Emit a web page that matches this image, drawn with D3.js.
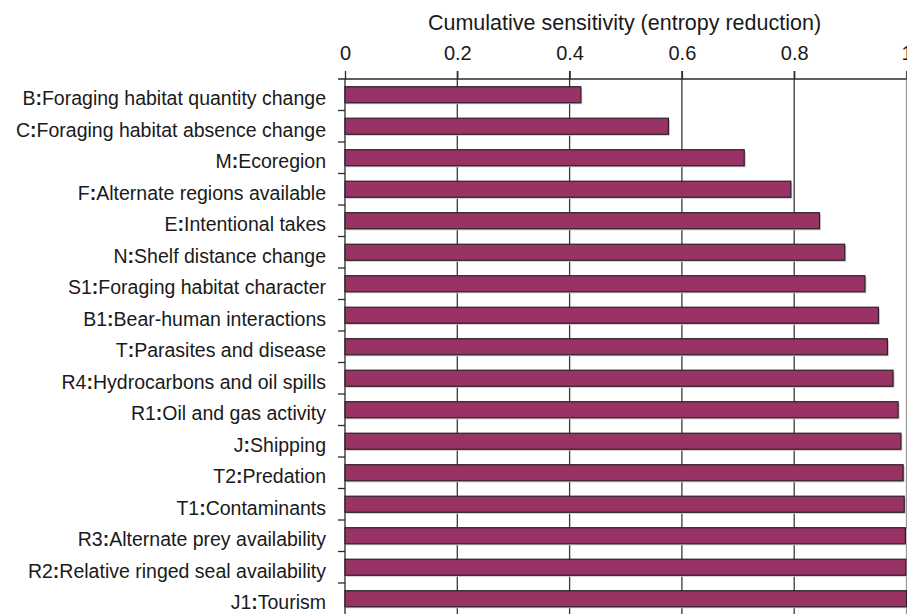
<!DOCTYPE html>
<html><head><meta charset="utf-8">
<script src="https://cdn.jsdelivr.net/npm/d3@7"></script>
<style>
html,body{margin:0;padding:0;background:#fff;overflow:hidden;}
svg{display:block;font-family:"Liberation Sans",Arial,sans-serif;}
</style></head><body>
<svg id="chart" width="907" height="614"></svg>
<script>
const codes = ["B","C","M","F","E","N","S1","B1","T","R4","R1","J","T2","T1","R3","R2","J1"];
const names = ["Foraging habitat quantity change","Foraging habitat absence change","Ecoregion","Alternate regions available","Intentional takes","Shelf distance change","Foraging habitat character","Bear-human interactions","Parasites and disease","Hydrocarbons and oil spills","Oil and gas activity","Shipping","Predation","Contaminants","Alternate prey availability","Relative ringed seal availability","Tourism"];
const values = [0.420,0.576,0.711,0.794,0.845,0.890,0.926,0.950,0.966,0.976,0.985,0.990,0.994,0.996,0.998,0.999,1.0];
const xTicks = [0,0.2,0.4,0.6,0.8,1];
const xTitle = "Cumulative sensitivity (entropy reduction)";

const svg = d3.select("#chart");
const mLeft = 345, mRight = 906.5, mTop = 79, mBottom = 614.5;
const x = d3.scaleLinear().domain([0,1]).range([mLeft,mRight]);
const y = d3.scaleBand().domain(codes).range([mTop,mBottom]).paddingInner(0.49).paddingOuter(0.245);

// gridlines
svg.append("g").selectAll("line").data(xTicks.slice(1)).join("line")
  .attr("x1",d=>x(d)).attr("x2",d=>x(d)).attr("y1",mTop-8).attr("y2",614)
  .attr("stroke",d=>d===1?"#999":"#3a3a3a").attr("stroke-width",1.3);

// top axis
const xAxis = d3.axisTop(x).tickValues(xTicks).tickSize(8).tickPadding(11.5)
  .tickFormat(d=>d===0?"0":d===1?"1":d3.format(".1f")(d));
const gx = svg.append("g").attr("transform",`translate(0,${mTop})`).call(xAxis);
gx.select(".domain").attr("stroke","#2a2a2a").attr("stroke-width",1.3).attr("d",`M${mLeft-7},0H${mRight}`);
gx.selectAll(".tick line").attr("stroke","#2a2a2a").attr("stroke-width",1.3);
gx.selectAll(".tick text").attr("font-size",20).attr("fill","#1a1a1a").attr("font-family","Liberation Sans, Arial, sans-serif");

svg.append("text").attr("x",624.5).attr("y",30).attr("text-anchor","middle")
  .attr("font-size",21.5).attr("fill","#1a1a1a").text(xTitle);

// left axis line and boundary ticks
svg.append("line").attr("x1",mLeft).attr("x2",mLeft).attr("y1",mTop).attr("y2",614)
  .attr("stroke","#2a2a2a").attr("stroke-width",1.3);
const step = y.step();
svg.append("g").selectAll("line").data(codes.slice(1)).join("line")
  .attr("x1",mLeft-7).attr("x2",mLeft)
  .attr("y1",d=>y(d)-y.paddingInner()*step/2).attr("y2",d=>y(d)-y.paddingInner()*step/2)
  .attr("stroke","#2a2a2a").attr("stroke-width",1.3);

// bars with soft shadow
const rows = codes.map((c,i)=>({c,n:names[i],v:values[i]}));
svg.append("g").selectAll("rect").data(rows).join("rect")
  .attr("x",x(0)+1.5).attr("y",d=>y(d.c)+1.5).attr("width",d=>x(d.v)-x(0)).attr("height",y.bandwidth())
  .attr("fill","#c8c8c8");
svg.append("g").selectAll("rect").data(rows).join("rect")
  .attr("x",x(0)).attr("y",d=>y(d.c)).attr("width",d=>x(d.v)-x(0)).attr("height",y.bandwidth())
  .attr("fill","#993366").attr("stroke","#2a2226").attr("stroke-width",1.2);

// category labels
const lab = svg.append("g").selectAll("text").data(rows).join("text")
  .attr("x",326).attr("y",d=>y(d.c)+y.bandwidth()/2+3.4).attr("dy","0.36em")
  .attr("text-anchor","end").attr("font-size",19.5).attr("fill","#1a1a1a");
lab.append("tspan").text(d=>d.c);
lab.append("tspan").attr("font-weight","bold").text(":");
lab.append("tspan").text(d=>d.n);
</script>
</body></html>
